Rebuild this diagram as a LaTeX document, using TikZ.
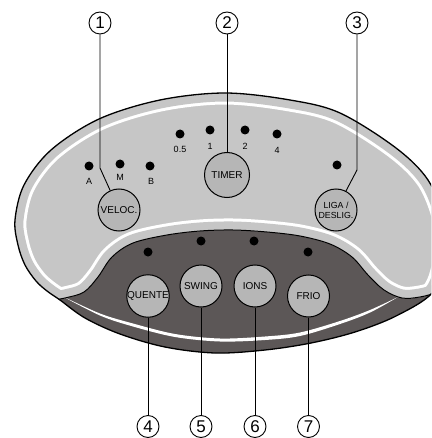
\documentclass[tikz,border=0pt]{standalone}
\usepackage{fontspec}
\setmainfont{Liberation Sans}
\definecolor{panelgray}{RGB}{198,198,198}
\definecolor{btngray}{RGB}{182,182,182}
\definecolor{darkgray}{RGB}{92,87,87}
\begin{document}
\begin{tikzpicture}[x=1pt,y=-1pt,
  btn/.style={circle, draw=black, line width=1pt, fill=btngray, minimum size=42pt, inner sep=0pt, font=\fontsize{10}{10.5}\selectfont, align=center},
  callout/.style={circle, draw=black, line width=0.9pt, fill=white, minimum size=22pt, inner sep=0pt, font=\fontsize{17}{17}\selectfont},
  led/.style={circle, fill=black, minimum size=9pt, inner sep=0pt},
  ledlabel/.style={font=\fontsize{9}{9}\selectfont, inner sep=0pt},
  leader/.style={line width=0.9pt, draw=black}
]
\useasboundingbox (0,0) rectangle (431,438);
\fill[white] (0,0) rectangle (431,438);
\clip (0,0) rectangle (431,438);

\def\outerpath{plot[smooth cycle, tension=0.55] coordinates {
 (15,220) (24,185) (51,150) (99,119) (160,100) (225,93) (290,100) (340,113)
 (396,148) (428,180) (444,220) (445,255) (433,292) (396,316) (355,332)
 (311,343) (265,350) (215,353) (165,347) (120,334) (85,318) (60,300)
 (47,291) (36,281) (25,265) (18,245)}}
\def\wavy{plot[smooth, tension=0.55] coordinates {
 (10,318) (40,303) (65,298) (84,292) (98,277) (112,257) (133,243) (167,235)
 (200,231) (233,230) (267,232) (300,236) (330,244) (352,257) (368,275)
 (384,290) (402,298) (420,297) (440,292) (470,285)}}

% dark body
\fill[darkgray] \outerpath;
% white crescent in dark area
\fill[white] plot[smooth, tension=0.55] coordinates {(62,296) (100,313.5) (133,323.5) (175,334) (220,338.5) (265,336.5) (300,332.5) (340,321) (370,310) (398,297)}
  -- plot[smooth, tension=0.55] coordinates {(398,297) (370,312.5) (340,324) (300,336) (265,340) (220,341.5) (175,337) (133,326.5) (100,315.5) (62,296)} -- cycle;

% light panel with inner white line
\begin{scope}
  \clip \outerpath;
  \fill[panelgray] \wavy -- (480,300) -- (480,-30) -- (-30,-30) -- (-30,330) -- cycle;
  \begin{scope}
    \clip \wavy -- (480,300) -- (480,-30) -- (-30,-30) -- (-30,330) -- cycle;
    \draw[white, line width=23pt] \outerpath;
    \draw[white, line width=23pt] \wavy;
    \draw[panelgray, line width=17pt] \outerpath;
    \draw[panelgray, line width=17pt] \wavy;
  \end{scope}
  \draw[black, line width=1pt] \wavy;
\end{scope}
\draw[black, line width=1.3pt] \outerpath;

% buttons
\node[btn] (veloc) at (119,210) {VELOC.};
\node[btn, minimum size=45pt] (timer) at (227,175) {TIMER};
\node[btn, font=\fontsize{8.8}{9.8}\selectfont] (liga) at (336,210) {LIGA /\\DESLIG.};
\node[btn] (quente) at (148,296) {QUENTE};
\node[btn] (swing) at (201,286) {SWING};
\node[btn] (ions) at (255,286) {IONS};
\node[btn] (frio) at (308.5,296) {FRIO};

% callouts
\node[callout] (c1) at (100,23) {1};
\node[callout] (c2) at (227,23) {2};
\node[callout] (c3) at (357,23) {3};
\node[callout] (c4) at (148,426.5) {4};
\node[callout] (c5) at (201,426.5) {5};
\node[callout] (c6) at (255,426.5) {6};
\node[callout] (c7) at (308.5,426.5) {7};

\coordinate (k1) at (100,168);
\coordinate (k3) at (357,170);
\draw[leader] (c1) -- (k1) -- (veloc);
\draw[leader] (c2) -- (timer);
\draw[leader] (c3) -- (k3) -- (liga);
\draw[leader] (quente) -- (c4);
\draw[leader] (swing) -- (c5);
\draw[leader] (ions) -- (c6);
\draw[leader] (frio) -- (c7);

% LEDs
\node[led] (la) at (89,166) {};
\node[led] (lm) at (120,164) {};
\node[led] (lb) at (150,166) {};
\node[led] (t05) at (180,134) {};
\node[led] (t1) at (210,130) {};
\node[led] (t2) at (245,130) {};
\node[led] (t4) at (277,134) {};
\node[led] (lon) at (337,165) {};
\node[led] (lq) at (148,252) {};
\node[led] (ls) at (201,241) {};
\node[led] (li) at (254,241) {};
\node[led] (lf) at (308,252) {};

% LED labels
\node[ledlabel] (ta) at (89,181.5) {A};
\node[ledlabel] (tm) at (120,177) {M};
\node[ledlabel] (tb) at (151,181) {B};
\node[ledlabel] (tt05) at (180,149) {0.5};
\node[ledlabel] (tt1) at (210,146) {1};
\node[ledlabel] (tt2) at (245,146) {2};
\node[ledlabel] (tt4) at (277,150) {4};
\end{tikzpicture}
\end{document}
